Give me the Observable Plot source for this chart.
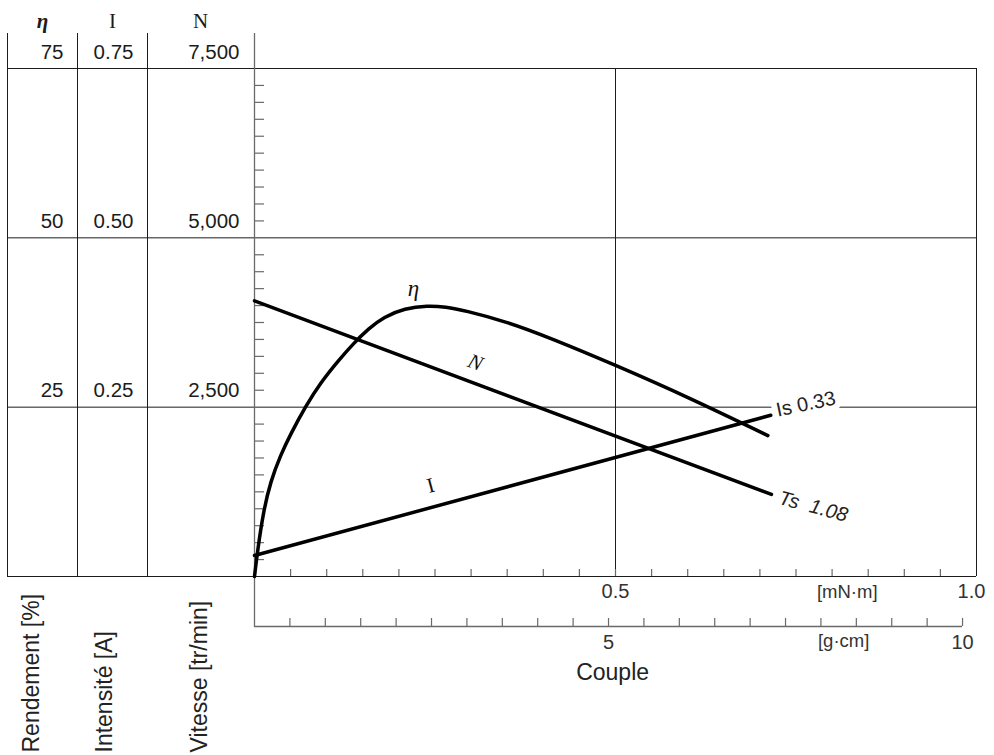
<!DOCTYPE html>
<html>
<head>
<meta charset="utf-8">
<script src="https://cdn.jsdelivr.net/npm/d3@7"></script>
<script src="https://cdn.jsdelivr.net/npm/@observablehq/plot@0.6"></script>
<style>
  html, body { margin: 0; padding: 0; background: #fff; }
  svg { display: block; }
</style>
</head>
<body>
<div id="chart"></div>
<script>
// ---- data ----
// torque in mN·m
const torqueEta = [0, 0.0042, 0.0125, 0.0222, 0.036, 0.0499, 0.0706, 0.0914, 0.1163, 0.137, 0.158, 0.179, 0.208, 0.240, 0.265, 0.290, 0.350, 0.410, 0.500, 0.600, 0.711];
const efficiency = [0, 3.8, 9.7, 14.0, 17.9, 21.0, 25.1, 28.6, 31.9, 34.4, 36.6, 38.3, 39.6, 40.0, 39.8, 39.3, 37.6, 35.2, 31.2, 26.5, 20.8]; // %
const torqueN = [0, 0.716];
const speed = [4070, 1211];          // tr/min
const torqueI = [0, 0.715];
const current = [0.031, 0.238];      // A

// tick values / labels
const gridValues = [2500, 5000, 7500];             // speed scale (tr/min)
const etaTickLabels = ["25", "50", "75"];
const iTickLabels = ["0.25", "0.50", "0.75"];
const nTickLabels = ["2,500", "5,000", "7,500"];
const speedMinorTicks = d3.range(250, 7500, 250).filter(v => v % 2500 !== 0);
const mNmTicks = d3.range(1, 20).map(i => i * 0.05);
const gcmTicks = d3.range(1, 21).map(i => i * 0.5);
const gcmLabels = [5, 10];
const G_CM_TO_MNM = 0.0980665;

const headers = ["η", "I", "N"];
const axisTitles = ["Rendement [%]", "Intensité [A]", "Vitesse [tr/min]"];
const stallCurrentLabel = "Is 0.33";
const stallTorqueLabel = "Ts\u00a0\u00a01.08";

// ---- build tables ----
const etaData = torqueEta.map((t, i) => ({t, v: efficiency[i] * 100}));
const nData = torqueN.map((t, i) => ({t, v: speed[i]}));
const iData = torqueI.map((t, i) => ({t, v: current[i] * 10000}));

const ink = "#1c1c1c";
const gray = "#6a6a6a";
const sans = "'Liberation Sans', Arial, Helvetica, sans-serif";
const serif = "'Liberation Serif', 'Times New Roman', serif";

const colDx = [-247, -177, -107];        // table column separators
const valueDx = [-191, -121, -15];       // right edge of tick values
const headerDx = [-212, -142, -54];      // header centres
const titleDx = [-223, -150, -55];       // rotated title centres

const chart = Plot.plot({
  width: 994,
  height: 755,
  marginLeft: 7,
  marginRight: 18,
  marginTop: 33,
  marginBottom: 179,
  x: {domain: [0, 1], range: [254, 976], axis: null},
  y: {domain: [0, 7500], range: [576, 68], axis: null},
  style: {fontFamily: sans, background: "#fff", color: ink},
  marks: [
    // horizontal lines across table + plot
    Plot.ruleY([0, ...gridValues], {stroke: ink, strokeWidth: 1}),
    // table column separators
    ...colDx.map(dx => Plot.ruleX([0], {dx, stroke: ink, strokeWidth: 1})),
    // vertical grid at 0.5 and right border at 1.0
    Plot.ruleX([0.5, 1], {y1: 0, y2: 7500, stroke: ink, strokeWidth: 1}),
    // y axis line (extends down to the g·cm axis)
    Plot.ruleX([0], {insetBottom: -51, stroke: gray, strokeWidth: 1.3}),
    // minor y ticks
    Plot.ruleY(speedMinorTicks, {x1: 0, x2: 0, insetRight: -10, stroke: gray, strokeWidth: 1.2}),
    // mN·m ticks
    Plot.ruleX(mNmTicks, {y1: 0, y2: 0, insetTop: -7, stroke: gray, strokeWidth: 1.2}),
    // g·cm axis
    Plot.ruleY([0], {x1: 0, x2: 10 * G_CM_TO_MNM, dy: 50, stroke: gray, strokeWidth: 1.3}),
    Plot.ruleX(gcmTicks, {x: d => d * G_CM_TO_MNM, y1: 0, y2: 0, insetTop: -8, dy: 50, stroke: gray, strokeWidth: 1.2}),

    // table headers
    ...headers.map((h, i) => Plot.text([h], {
      x: 0, y: 7500, text: d => d, dx: headerDx[i], dy: -41, lineAnchor: "bottom",
      fontFamily: serif, fontSize: 21, fontStyle: i === 0 ? "italic" : "normal",
      fontWeight: i === 0 ? "bold" : "normal", fill: ink
    })),
    // table tick values
    ...[etaTickLabels, iTickLabels, nTickLabels].map((labels, k) => Plot.text(gridValues, {
      x: 0, y: d => d, text: (d, i) => labels[i], dx: valueDx[k], dy: -10,
      textAnchor: "end", lineAnchor: "bottom", fontSize: 20.5, fill: ink
    })),
    // rotated axis titles
    ...axisTitles.map((t, i) => Plot.text([t], {
      x: 0, y: 0, text: d => d, dx: titleDx[i], dy: 176, rotate: -90,
      textAnchor: "start", fontSize: 23, fill: "#222"
    })),

    // mN·m labels
    Plot.text([0.5], {x: d => d, y: 0, text: d => d.toFixed(1), dy: 21, lineAnchor: "bottom", fontSize: 20, fill: "#333"}),
    Plot.text([1.0], {x: d => d, y: 0, text: d => d.toFixed(1), dx: -5, dy: 21, lineAnchor: "bottom", fontSize: 20, fill: "#333"}),
    Plot.text(["[mN·m]"], {x: 0.821, y: 0, text: d => d, dy: 21, lineAnchor: "bottom", fontSize: 18.5, fill: "#333"}),
    // g·cm labels
    Plot.text(gcmLabels, {x: d => d * G_CM_TO_MNM, y: 0, text: d => String(d), dy: 72, lineAnchor: "bottom", fontSize: 20, fill: "#333"}),
    Plot.text(["[g·cm]"], {x: 0.816, y: 0, text: d => d, dy: 70, lineAnchor: "bottom", fontSize: 18.5, fill: "#333"}),
    Plot.text(["Couple"], {x: 0.496, y: 0, text: d => d, dy: 103, lineAnchor: "bottom", fontSize: 23, fill: "#222"}),

    // stall current label (white halo breaks the grid line)
    Plot.text([stallCurrentLabel], {
      x: 0.723, y: 2451, text: d => d, rotate: -12, textAnchor: "start",
      fontSize: 20, fill: "#222", stroke: "#fff", strokeWidth: 12, paintOrder: "stroke"
    }),
    Plot.text([stallTorqueLabel], {
      x: 0.727, y: 1166, text: d => d, rotate: 15, textAnchor: "start",
      fontSize: 20, fontStyle: "italic", fill: "#222"
    }),

    // curves
    Plot.line(etaData, {x: "t", y: "v", curve: "basis", stroke: "#000", strokeWidth: 3.5}),
    Plot.line(nData, {x: "t", y: "v", stroke: "#000", strokeWidth: 3.5}),
    Plot.line(iData, {x: "t", y: "v", stroke: "#000", strokeWidth: 3.5}),

    // curve labels
    Plot.text(["η"], {x: 0.220, y: 4252, text: d => d, fontFamily: serif, fontStyle: "italic", fontSize: 23, fill: "#111"}),
    Plot.text(["N"], {x: 0.306, y: 3159, text: d => d, rotate: 21, fontFamily: serif, fontStyle: "italic", fontSize: 21, fill: "#111"}),
    Plot.text(["I"], {x: 0.244, y: 1343, text: d => d, rotate: -15, fontFamily: serif, fontSize: 21, fill: "#111"})
  ]
});

document.getElementById("chart").append(chart);
</script>
</body>
</html>
